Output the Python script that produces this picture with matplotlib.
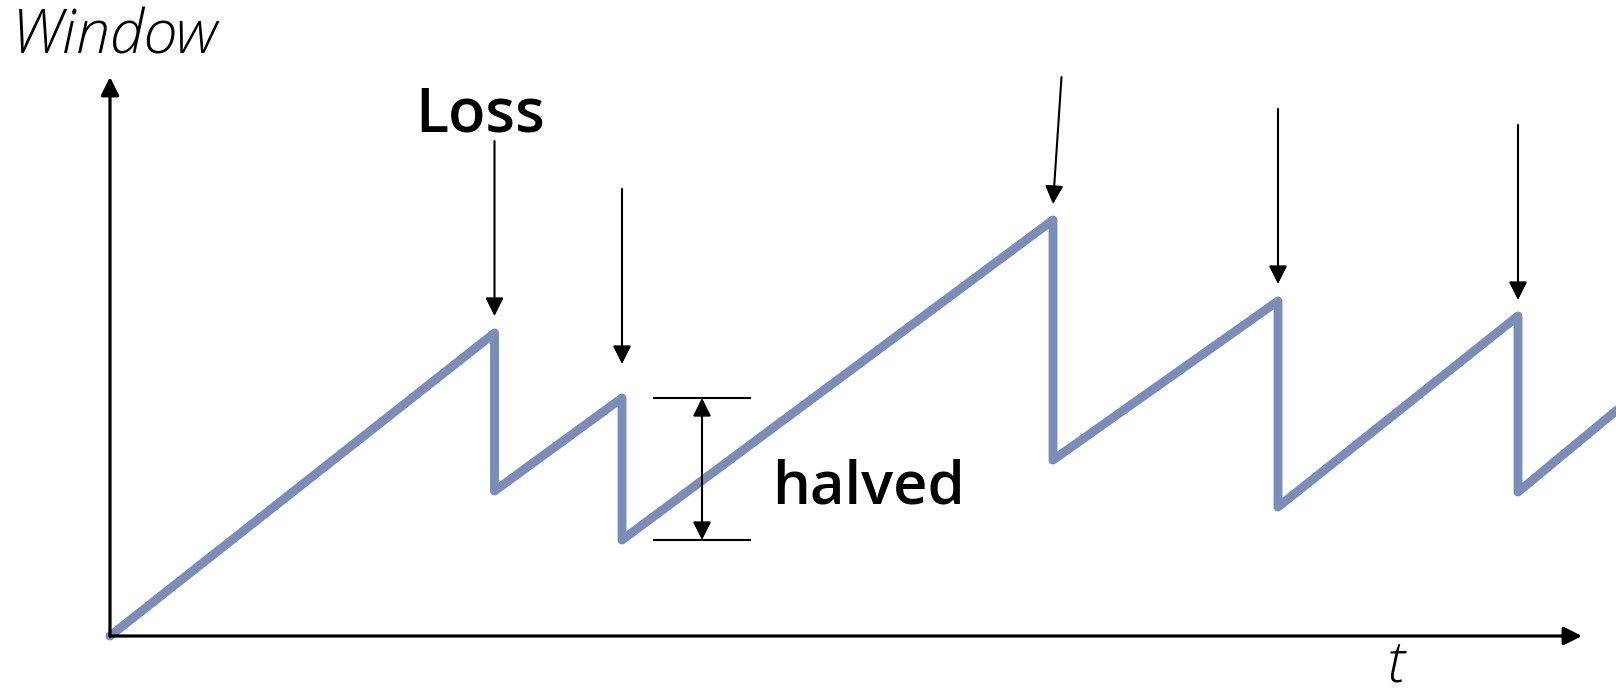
import numpy as np
import matplotlib.pyplot as plt
from matplotlib.patches import FancyArrowPatch

# fenetre de congestion (dents de scie)
t = [0, 384.5, 384.5, 512, 512, 943, 943, 1168, 1168, 1408, 1408, 1530]
w = [0, 303, 145, 238, 96, 416, 176, 335, 129, 320, 144, 245]

# fleches "Loss" : (t_debut, w_debut, t_fin, w_fin)
loss_t0 = [384.5, 512, 951.5, 1168, 1408]
loss_w0 = [495, 447, 559, 527, 511]
loss_t1 = [384.5, 512, 943, 1168, 1408]
loss_w1 = [320, 272, 432, 352, 336]

t_half = 592          # position de la double fleche
half_span = (544, 640)

blue = '#7a8cb7'

fig = plt.figure(figsize=(16.16, 6.95), dpi=100)
ax = fig.add_axes([0, 0, 1, 1])
ax.set_xlim(-110, 1506)
ax.set_ylim(-59, 636)
ax.axis('off')

def arrow(p0, p1, lw, style='-|>'):
    a = FancyArrowPatch(p0, p1, arrowstyle=style + ',head_length=1.1,head_width=0.55',
                        mutation_scale=10, lw=lw, color='black',
                        shrinkA=0, shrinkB=0, zorder=3)
    ax.add_patch(a)

# axes
arrow((0, 0), (0, 559), 2.3)
arrow((0, 0), (1472, 0), 2.3)

ax.plot(t, w, color=blue, lw=6.4, solid_capstyle='round',
        solid_joinstyle='round', zorder=2)

for x0, y0, x1, y1 in zip(loss_t0, loss_w0, loss_t1, loss_w1):
    arrow((x0, y0), (x1, y1), 1.5)

# "halved"
ax.plot(half_span, [w[3], w[3]], color='black', lw=1.5)
ax.plot(half_span, [w[4], w[4]], color='black', lw=1.5)
arrow((t_half, (w[3] + w[4]) / 2), (t_half, w[3]), 1.5)
arrow((t_half, (w[3] + w[4]) / 2), (t_half, w[4]), 1.5)

ax.text(-98, 582, 'Window', fontsize=44, family='Open Sans', style='italic',
        weight='light', ha='left', va='baseline')
ax.text(1277, -46, 't', fontsize=42, family='Open Sans', style='italic',
        weight='light', ha='left', va='baseline')
ax.text(305, 504, 'Loss', fontsize=44, family='Open Sans', weight='semibold',
        ha='left', va='baseline')
ax.text(662, 133, 'halved', fontsize=43, family='Open Sans', weight='semibold',
        ha='left', va='baseline')

plt.savefig('out.png', dpi=100)
